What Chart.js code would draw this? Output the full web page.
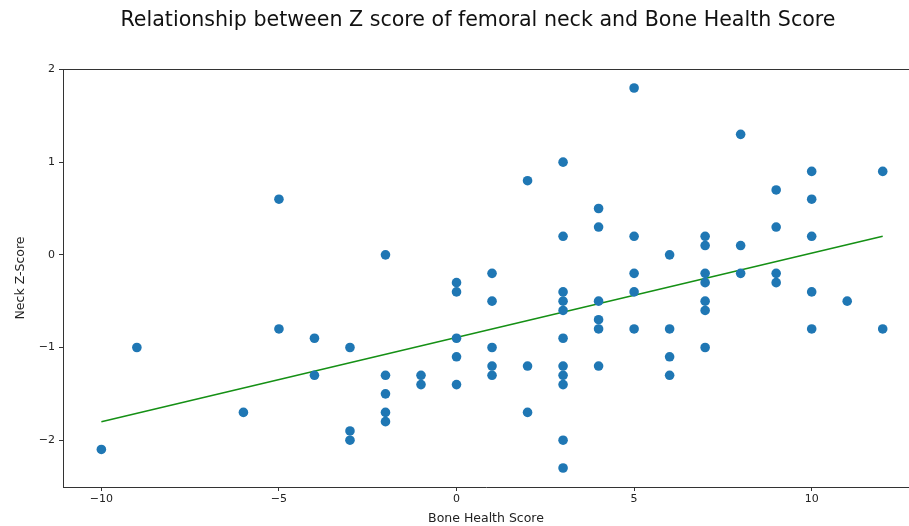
<!DOCTYPE html>
<html>
<head>
<meta charset="utf-8">
<script src="https://cdn.jsdelivr.net/npm/chart.js@4.4.1/dist/chart.umd.min.js"></script>
<style>
  html, body { margin: 0; padding: 0; background: #fff; }
  #wrap { width: 909px; height: 526px; }
</style>
</head>
<body>
<div id="wrap"><canvas id="chart" width="909" height="526"></canvas></div>
<script>
// Data
const bhsScore = [-10, -9, -6, -5, -5, -4, -4, -3, -3, -3,
  -2, -2, -2, -2, -2, -1, -1, 0, 0, 0, 0, 0,
  1, 1, 1, 1, 1, 2, 2, 2,
  3, 3, 3, 3, 3, 3, 3, 3, 3, 3, 3,
  4, 4, 4, 4, 4, 4, 5, 5, 5, 5, 5, 6, 6, 6, 6,
  7, 7, 7, 7, 7, 7, 7, 8, 8, 8, 9, 9, 9, 9,
  10, 10, 10, 10, 10, 11, 12, 12];
const neckZ = [-2.1, -1.0, -1.7, 0.6, -0.8, -0.9, -1.3, -1.0, -1.9, -2.0,
  0.0, -1.3, -1.5, -1.7, -1.8, -1.3, -1.4, -0.3, -0.4, -0.9, -1.1, -1.4,
  -0.2, -0.5, -1.0, -1.2, -1.3, 0.8, -1.2, -1.7,
  1.0, 0.2, -0.4, -0.5, -0.6, -0.9, -1.2, -1.3, -1.4, -2.0, -2.3,
  0.5, 0.3, -0.5, -0.7, -0.8, -1.2, 1.8, 0.2, -0.2, -0.4, -0.8, 0.0, -0.8, -1.1, -1.3,
  0.2, 0.1, -0.2, -0.3, -0.5, -0.6, -1.0, 1.3, 0.1, -0.2, 0.7, 0.3, -0.2, -0.3,
  0.9, 0.6, 0.2, -0.4, -0.8, -0.5, 0.9, -0.8];

// fitted line end points (as drawn in the reference)
const fitX = [-10, 12];
const fitY = [-1.8, 0.2];

const xTicks = [-10, -5, 0, 5, 10];
const yTicks = [-2, -1, 0, 1, 2];

const TITLE = "Relationship between Z score of femoral neck and Bone Health Score";
const FONT = "'DejaVu Sans', sans-serif";
const minus = v => String(v).replace('-', '\u2212');

// title + top spine, matplotlib style
const framePlugin = {
  id: 'frame',
  afterDraw(chart) {
    const { ctx, chartArea } = chart;
    ctx.save();
    ctx.strokeStyle = '#333';
    ctx.lineWidth = 1;
    ctx.beginPath();
    ctx.moveTo(chartArea.left, chartArea.top + 0.5);
    ctx.lineTo(chartArea.right, chartArea.top + 0.5);
    ctx.stroke();
    ctx.fillStyle = '#111';
    ctx.font = "20.6px " + FONT;
    ctx.textAlign = 'center';
    ctx.textBaseline = 'middle';
    ctx.fillText(TITLE, 478, 21);
    ctx.restore();
  }
};

const ctx = document.getElementById('chart').getContext('2d');
new Chart(ctx, {
  type: 'scatter',
  data: {
    datasets: [
      {
        label: 'Neck Z-Score',
        data: bhsScore.map((x, i) => ({ x, y: neckZ[i] })),
        backgroundColor: '#1f77b4',
        borderWidth: 0,
        pointRadius: 4.8,
        pointHoverRadius: 4.8
      },
      {
        label: 'fit',
        type: 'line',
        data: fitX.map((x, i) => ({ x, y: fitY[i] })),
        borderColor: '#159015',
        borderWidth: 1.6,
        pointRadius: 0,
        fill: false
      }
    ]
  },
  options: {
    responsive: false,
    animation: false,
    layout: { autoPadding: false, padding: { top: 69, left: 0, right: 0, bottom: 0 } },
    plugins: { legend: { display: false }, tooltip: { enabled: false } },
    scales: {
      x: {
        type: 'linear',
        min: -11.08,
        max: 12.74,
        afterFit: s => { s.height = 39; s.paddingLeft = 0; s.paddingRight = 0; },
        afterBuildTicks: s => { s.ticks = xTicks.map(v => ({ value: v })); },
        grid: { drawOnChartArea: false, tickLength: 4, color: '#333' },
        border: { color: '#333', width: 1 },
        ticks: { font: { family: FONT, size: 11 }, color: '#222', padding: 2, callback: v => minus(v), maxRotation: 0 },
        title: { display: true, text: 'Bone Health Score', font: { family: FONT, size: 12.5 }, color: '#222', padding: { top: 0, bottom: 0 } }
      },
      y: {
        type: 'linear',
        min: -2.505,
        max: 2.005,
        afterFit: s => { s.width = 63; s.paddingTop = 0; s.paddingBottom = 0; },
        afterBuildTicks: s => { s.ticks = yTicks.map(v => ({ value: v })); },
        grid: { drawOnChartArea: false, tickLength: 4, color: '#333' },
        border: { color: '#333', width: 1 },
        ticks: { font: { family: FONT, size: 11 }, color: '#222', padding: 4, callback: v => minus(v) },
        title: { display: true, text: 'Neck Z-Score', font: { family: FONT, size: 12.5 }, color: '#222', padding: { top: 13, bottom: 0 } }
      }
    }
  },
  plugins: [framePlugin]
});
</script>
</body>
</html>
